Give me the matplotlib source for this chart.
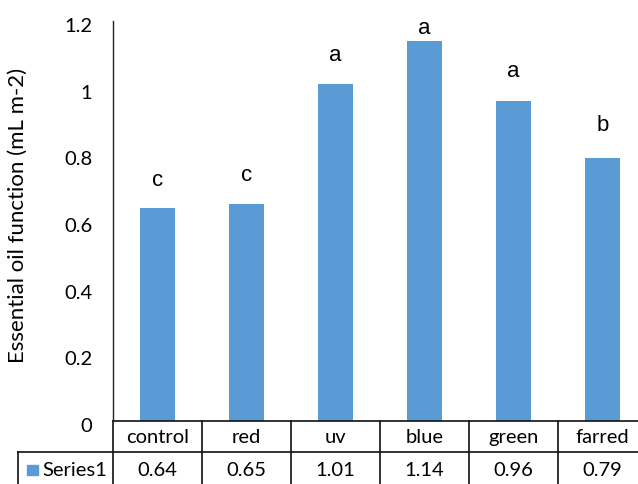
import matplotlib
matplotlib.use("Agg")
import matplotlib.pyplot as plt
import matplotlib.transforms as mtransforms
from matplotlib.patches import Rectangle

categories = ["control", "red", "uv", "blue", "green", "farred"]
values = [0.64, 0.65, 1.01, 1.14, 0.96, 0.79]
letters = ["c", "c", "a", "a", "a", "b"]
letter_y = [0.725, 0.74, 1.10, 1.18, 1.05, 0.89]
series_name = "Series1"
yticks = [0, 0.2, 0.4, 0.6, 0.8, 1.0, 1.2]
ytick_labels = ["0", "0.2", "0.4", "0.6", "0.8", "1", "1.2"]

W, H = 638, 485
bar_color = "#5B9BD5"
font = ["Lato", "DejaVu Sans"]
fs = 14.5

fig = plt.figure(figsize=(W / 100, H / 100), dpi=100)
ax_left, ax_right, ax_top, ax_bottom = 113, 647, 22, 422
ax = fig.add_axes([ax_left / W, 1 - ax_bottom / H,
                   (ax_right - ax_left) / W, (ax_bottom - ax_top) / H])

x = list(range(len(categories)))
ax.bar(x, values, width=0.4, color=bar_color, zorder=2)
for xi, lab, ly in zip(x, letters, letter_y):
    ax.text(xi, ly, lab, ha="center", va="center", fontsize=16,
            family=["Liberation Sans"])

ax.set_xlim(-0.5, len(categories) - 0.5)
ax.set_ylim(0, 1.2)
ax.set_yticks(yticks)
ax.set_yticklabels(ytick_labels, family=font, fontsize=fs)
ax.tick_params(axis="y", length=0, pad=15)
shift = mtransforms.ScaledTranslation(0, -3 / 100, fig.dpi_scale_trans)
for lbl in ax.get_yticklabels():
    lbl.set_transform(lbl.get_transform() + shift)
ax.set_xticks([])
for side in ["top", "right", "bottom"]:
    ax.spines[side].set_visible(False)
ax.spines["left"].set_color("#222222")
ax.spines["left"].set_linewidth(1.0)

fig.text(18 / W, 1 - 215 / H, "Essential oil function (mL m-2)", rotation=90,
         ha="center", va="center", fontsize=16, family=font)

# data table under the axis
px_h = ax_bottom - ax_top
row_h = 31 / px_h
trans = mtransforms.blended_transform_factory(ax.transData, ax.transAxes)
lc = "#111111"
lw = 1.2
n = len(categories)
# horizontal rules
ax.plot([-0.5, n - 0.5], [0, 0], color=lc, lw=lw, transform=trans, clip_on=False)
x_left_data = ax.transData.inverted().transform(
    fig.transFigure.transform((18 / W, 0)))[0]
ax.plot([x_left_data, n - 0.5], [-row_h, -row_h], color=lc, lw=lw,
        transform=trans, clip_on=False)
# vertical rules
for b in range(n + 1):
    ax.plot([b - 0.5, b - 0.5], [0, -3 * row_h], color=lc, lw=lw,
            transform=trans, clip_on=False)
ax.plot([x_left_data, x_left_data], [-row_h, -3 * row_h], color=lc, lw=lw,
        transform=trans, clip_on=False)

val_y = -(49 / px_h)
for xi, cat, v in zip(x, categories, values):
    ax.text(xi, -0.5 * row_h, cat, transform=trans, ha="center", va="center",
            fontsize=fs, family=font)
    ax.text(xi, val_y, f"{v:.2f}", transform=trans, ha="center",
            va="center", fontsize=fs, family=font)

# legend key in the series row
fig.patches.append(Rectangle((27 / W, 1 - 476 / H), 11 / W, 10 / H,
                             transform=fig.transFigure, color=bar_color))
fig.text(42 / W, 1 - 471 / H, series_name, ha="left", va="center",
         fontsize=fs, family=font)

fig.savefig("out.png", dpi=100)
